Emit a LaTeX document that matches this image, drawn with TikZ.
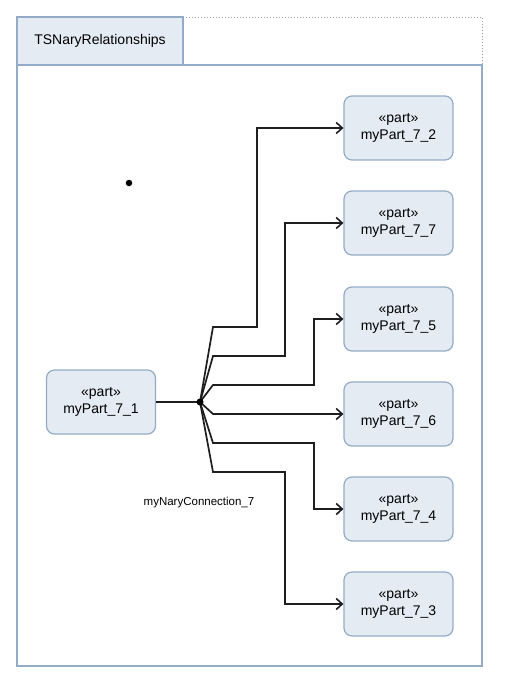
\documentclass[tikz,border=0pt]{standalone}
\usepackage{fontspec}
\setmainfont{Liberation Sans}
\usetikzlibrary{arrows.meta}
\definecolor{boxfill}{HTML}{E4EBF2}
\definecolor{boxdraw}{HTML}{93ABC6}
\definecolor{linecol}{HTML}{1E1E1E}
\begin{document}
\begin{tikzpicture}[x=1pt,y=-1pt,
  partbox/.style={draw=boxdraw, fill=boxfill, line width=1.2pt, rounded corners=8pt,
    minimum width=109pt, minimum height=64pt, inner sep=0pt, align=center,
    font=\fontsize{14pt}{17pt}\selectfont},
  conn/.style={draw=linecol, line width=1.7pt},
  arr/.style={conn, -{Straight Barb[length=6pt,width=11pt,line width=1.6pt]}},
  tabbox/.style={draw=boxdraw, fill=boxfill, line width=1.2pt, minimum width=166pt,
    minimum height=48pt, inner sep=0pt, font=\fontsize{14pt}{17pt}\selectfont}
]
\useasboundingbox (0,0) rectangle (508,680);
% frame
\draw[boxdraw, line width=1.2pt] (17,65) rectangle (482,666);
\draw[gray!75, line width=1pt, dotted] (183,17) -- (482,17) -- (482,65);
\node[tabbox] (title) at (100,41) {TSNaryRelationships};
% stray dot
\node[circle, fill=black, inner sep=0pt, minimum size=6.5pt] (dot) at (129,183) {};
% parts
\node[partbox] (p1) at (101,402) {«part»\\myPart\_7\_1};
\node[partbox] (p2) at (398.5,128) {«part»\\myPart\_7\_2};
\node[partbox] (p7) at (398.5,223) {«part»\\myPart\_7\_7};
\node[partbox] (p5) at (398.5,319) {«part»\\myPart\_7\_5};
\node[partbox] (p6) at (398.5,414) {«part»\\myPart\_7\_6};
\node[partbox] (p4) at (398.5,509) {«part»\\myPart\_7\_4};
\node[partbox] (p3) at (398.5,604) {«part»\\myPart\_7\_3};
% junction
\coordinate (j) at (200,402);
\draw[conn] (p1.east) -- (j);
\draw[arr] (j) -- (213,327) -- (257,327) |- (p2.west);
\draw[arr] (j) -- (213,356) -- (285,356) |- (p7.west);
\draw[arr] (j) -- (213,385) -- (314,385) |- (p5.west);
\draw[arr] (j) -- (213,414) -- (p6.west);
\draw[arr] (j) -- (213,443) -- (314,443) |- (p4.west);
\draw[arr] (j) -- (213,472) -- (285,472) |- (p3.west);
\fill[black] (j) circle (3.5pt);
\node[font=\fontsize{11.5pt}{14pt}\selectfont, inner sep=0pt] (lbl) at (199,503) {myNaryConnection\_7};
\end{tikzpicture}
\end{document}
